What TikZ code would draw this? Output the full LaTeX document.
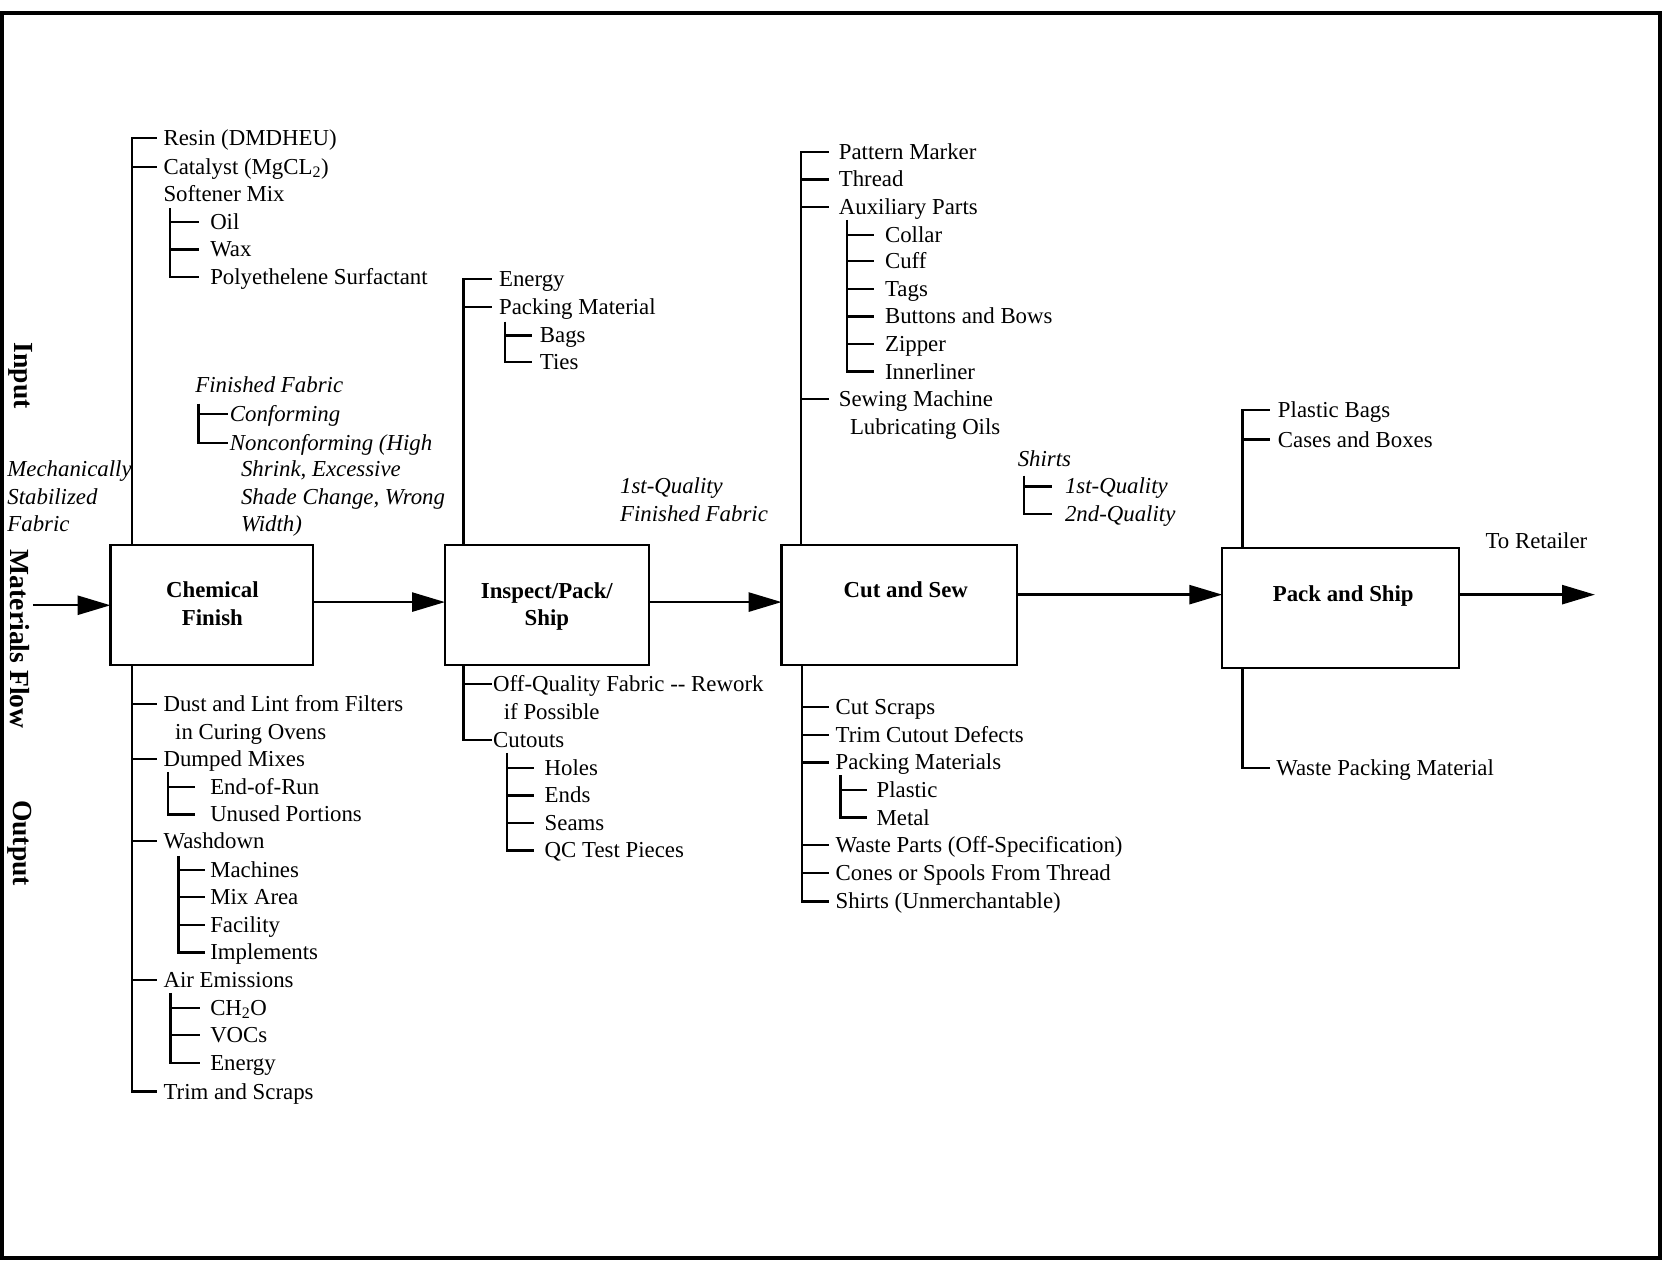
\documentclass[tikz,border=0pt]{standalone}
\usepackage{fontspec}
\setmainfont{Liberation Serif}
\usetikzlibrary{arrows.meta}

\newcommand\itemsize{\fontsize{21.5}{26}\selectfont}
\newcommand\sidesize{\fontsize{26}{30}\selectfont}
% horizontal tick from a spine at x=#1 to just before label #2 (gap #3)
\newcommand\branchtick[3]{\draw[tree] (#1,0 |- #2.west) -- ([xshift=-#3pt]#2.west);}

\tikzset{
  lbl/.style={font=\itemsize, inner sep=0pt, outer sep=0pt, anchor=west,
              text height=14pt, text depth=0pt},
  ilbl/.style={lbl, font=\itemsize\itshape},
  stagebox/.style={draw, line width=2.2pt, inner sep=0pt, outer sep=0pt,
                   minimum height=113pt},
  stagetext/.style={font=\itemsize\bfseries, align=center, inner sep=0pt},
  sidelabel/.style={font=\sidesize\bfseries, rotate=-90, inner sep=0pt},
  tree/.style={line width=2.2pt},
  flow/.style={line width=2.2pt, -{Triangle[length=31pt,width=18pt]}},
}

\begin{document}
\begin{tikzpicture}[x=1pt, y=-1pt]
\useasboundingbox (0,0) rectangle (1568,1188);
\draw[line width=3.8pt] (1.4,12.2) rectangle (1563,1184.6);

% side labels
\node[sidelabel] (input) at (19,354) {Input};
\node[sidelabel] (flowlbl) at (19,602) {Materials Flow};
\node[sidelabel] (output) at (19,794) {Output};

% process stages
\node[stagebox, minimum width=191pt] (chem) at (199.5,569.5) {};
\node[stagebox, minimum width=192pt] (insp) at (515,569.5) {};
\node[stagebox, minimum width=222pt] (cut) at (847,569.5) {};
\node[stagebox, minimum width=223pt] (pack) at (1262.5,572.5) {};
\node[stagetext] (chemT) at (200,568.7) {Chemical\\Finish};
\node[stagetext] (inspT) at (515,571) {Inspect/Pack/\\Ship};
\node[stagetext, text height=14pt, text depth=0pt] (cutT) at (853,556) {Cut and Sew};
\node[stagetext, text height=14pt, text depth=0pt] (packT) at (1265,559) {Pack and Ship};

% main material flow
\coordinate (feed) at (31,570);
\draw[flow] (feed) -- (feed -| chem.west);
\draw[flow] (chem.east |- 0,567) -- (insp.west |- 0,567);
\draw[flow] (insp.east |- 0,567) -- (cut.west |- 0,567);
\draw[flow] (cut.east |- 0,560) -- (pack.west |- 0,560);
\coordinate (retail) at (1502,560);
\draw[flow] (pack.east |- 0,560) -- (retail);
\node[lbl] (retailer) at (1399,509.5) {To Retailer};

% ---------------- Chemical Finish: inputs
\node[lbl] (resin) at (154,130) {Resin (DMDHEU)};
\node[lbl] (catalyst) at (154,157) {Catalyst (MgCL\textsubscript{2})};
\node[lbl] (softener) at (154,183) {Softener Mix};
\node[lbl] (oil) at (198,209) {Oil};
\node[lbl] (wax) at (198,235) {Wax};
\node[lbl] (poly) at (198,261) {Polyethelene Surfactant};
\draw[tree] (chem.north -| 124.5,0) |- ([xshift=-6pt]resin.west);
\branchtick{124.5}{catalyst}{6}
\coordinate (softtop) at (160,196);
\draw[tree] (softtop) |- ([xshift=-11pt]poly.west);
\branchtick{160}{oil}{11}
\branchtick{160}{wax}{11}

\node[ilbl] (finfab) at (184,363) {Finished Fabric};
\node[ilbl] (conf) at (216.5,390) {Conforming};
\node[ilbl] (nonconf) at (216.5,417) {Nonconforming (High};
\node[ilbl] (nonconf2) at (227,442) {Shrink, Excessive};
\node[ilbl] (nonconf3) at (227,468) {Shade Change, Wrong};
\node[ilbl] (nonconf4) at (227,494) {Width)};
\coordinate (fintop) at (187,380);
\draw[tree] (fintop) |- ([xshift=-1.5pt]nonconf.west);
\branchtick{187}{conf}{1.5}

\node[ilbl] (mech1) at (7,442) {Mechanically};
\node[ilbl] (mech2) at (7,468) {Stabilized};
\node[ilbl] (mech3) at (7,494) {Fabric};

% ---------------- Chemical Finish: outputs
\node[lbl] (dust) at (154,663) {Dust and Lint from Filters};
\node[lbl] (dust2) at (165,689) {in Curing Ovens};
\node[lbl] (dumped) at (154,715) {Dumped Mixes};
\node[lbl] (endrun) at (198,741) {End-of-Run};
\node[lbl] (unused) at (198,767) {Unused Portions};
\node[lbl] (washdown) at (154,792) {Washdown};
\node[lbl] (machines) at (198,819) {Machines};
\node[lbl] (mixarea) at (198,845) {Mix Area};
\node[lbl] (facility) at (198,871) {Facility};
\node[lbl] (implements) at (198,897) {Implements};
\node[lbl] (air) at (154,923) {Air Emissions};
\node[lbl] (ch2o) at (198,949) {CH\textsubscript{2}O};
\node[lbl] (vocs) at (198,975) {VOCs};
\node[lbl] (airenergy) at (198,1001) {Energy};
\node[lbl] (trim) at (154,1028) {Trim and Scraps};
\draw[tree] (chem.south -| 124.5,0) |- ([xshift=-6pt]trim.west);
\branchtick{124.5}{dust}{6}
\branchtick{124.5}{dumped}{6}
\branchtick{124.5}{washdown}{6}
\branchtick{124.5}{air}{6}
\coordinate (dumpedtop) at (158,727);
\draw[tree] (dumpedtop) |- ([xshift=-14pt]unused.west);
\branchtick{158}{endrun}{14}
\coordinate (washtop) at (168,806);
\draw[tree] (washtop) |- ([xshift=-5pt]implements.west);
\branchtick{168}{machines}{5}
\branchtick{168}{mixarea}{5}
\branchtick{168}{facility}{5}
\coordinate (airtop) at (160.5,935);
\draw[tree] (airtop) |- ([xshift=-10pt]airenergy.west);
\branchtick{160.5}{ch2o}{10}
\branchtick{160.5}{vocs}{10}

% ---------------- Inspect/Pack/Ship: inputs
\node[lbl] (packenergy) at (470,263) {Energy};
\node[lbl] (packmat) at (470,289) {Packing Material};
\node[lbl] (bags) at (508.5,316) {Bags};
\node[lbl] (ties) at (508.5,341) {Ties};
\draw[tree] (insp.north -| 436.5,0) |- ([xshift=-7pt]packenergy.west);
\branchtick{436.5}{packmat}{7}
\coordinate (packmattop) at (475.5,303);
\draw[tree] (packmattop) |- ([xshift=-7.5pt]ties.west);
\branchtick{475.5}{bags}{7.5}

\node[ilbl] (firstq) at (584,458) {1st-Quality};
\node[ilbl] (firstq2) at (584,484) {Finished Fabric};

% ---------------- Inspect/Pack/Ship: outputs
\node[lbl] (offq) at (464.5,644) {Off-Quality Fabric -{}- Rework};
\node[lbl] (offq2) at (474.5,671) {if Possible};
\node[lbl] (cutouts) at (464.5,697) {Cutouts};
\node[lbl] (holes) at (513,723) {Holes};
\node[lbl] (ends) at (513,749) {Ends};
\node[lbl] (seams) at (513,775) {Seams};
\node[lbl] (qc) at (513,801) {QC Test Pieces};
\draw[tree] (insp.south -| 436.5,0) |- ([xshift=-1.5pt]cutouts.west);
\branchtick{436.5}{offq}{1.5}
\coordinate (cutoutstop) at (477.5,709);
\draw[tree] (cutoutstop) |- ([xshift=-10pt]qc.west);
\branchtick{477.5}{holes}{10}
\branchtick{477.5}{ends}{10}
\branchtick{477.5}{seams}{10}

% ---------------- Cut and Sew: inputs
\node[lbl] (pattern) at (790,143) {Pattern Marker};
\node[lbl] (thread) at (790,169) {Thread};
\node[lbl] (aux) at (790,195) {Auxiliary Parts};
\node[lbl] (collar) at (833.5,221) {Collar};
\node[lbl] (cuff) at (833.5,246) {Cuff};
\node[lbl] (tags) at (833.5,272) {Tags};
\node[lbl] (buttons) at (833.5,298) {Buttons and Bows};
\node[lbl] (zipper) at (833.5,324) {Zipper};
\node[lbl] (innerliner) at (833.5,350) {Innerliner};
\node[lbl] (sewing) at (790,376) {Sewing Machine};
\node[lbl] (sewing2) at (800.5,402) {Lubricating Oils};
\draw[tree] (cut.north -| 754.5,0) |- ([xshift=-9pt]pattern.west);
\branchtick{754.5}{thread}{9}
\branchtick{754.5}{aux}{9}
\branchtick{754.5}{sewing}{9}
\coordinate (auxtop) at (797.5,207);
\draw[tree] (auxtop) |- ([xshift=-10.5pt]innerliner.west);
\branchtick{797.5}{collar}{10.5}
\branchtick{797.5}{cuff}{10.5}
\branchtick{797.5}{tags}{10.5}
\branchtick{797.5}{buttons}{10.5}
\branchtick{797.5}{zipper}{10.5}

\node[ilbl] (shirts) at (958.5,432) {Shirts};
\node[ilbl] (shirts1) at (1003,458) {1st-Quality};
\node[ilbl] (shirts2) at (1003,484) {2nd-Quality};
\coordinate (shirtstop) at (964.5,448);
\draw[tree] (shirtstop) |- ([xshift=-12.5pt]shirts2.west);
\branchtick{964.5}{shirts1}{12.5}

% ---------------- Cut and Sew: outputs
\node[lbl] (cutscraps) at (787,666) {Cut Scraps};
\node[lbl] (trimcut) at (787,692) {Trim Cutout Defects};
\node[lbl] (packmats) at (787,718) {Packing Materials};
\node[lbl] (plastic) at (825.5,744) {Plastic};
\node[lbl] (metal) at (825.5,770) {Metal};
\node[lbl] (wasteparts) at (787,796) {Waste Parts (Off-Specification)};
\node[lbl] (cones) at (787,822) {Cones or Spools From Thread};
\node[lbl] (unmerch) at (787,849) {Shirts (Unmerchantable)};
\draw[tree] (cut.south -| 755,0) |- ([xshift=-6pt]unmerch.west);
\branchtick{755}{cutscraps}{6}
\branchtick{755}{trimcut}{6}
\branchtick{755}{packmats}{6}
\branchtick{755}{wasteparts}{6}
\branchtick{755}{cones}{6}
\coordinate (packmatstop) at (791.5,730);
\draw[tree] (packmatstop) |- ([xshift=-9pt]metal.west);
\branchtick{791.5}{plastic}{9}

% ---------------- Pack and Ship
\node[lbl] (pbags) at (1203.5,386) {Plastic Bags};
\node[lbl] (cases) at (1203.5,414) {Cases and Boxes};
\draw[tree] (pack.north -| 1170,0) |- ([xshift=-7.5pt]pbags.west);
\branchtick{1170}{cases}{7.5}
\node[lbl] (wastepack) at (1202,723) {Waste Packing Material};
\draw[tree] (pack.south -| 1170,0) |- ([xshift=-6pt]wastepack.west);
\end{tikzpicture}
\end{document}
